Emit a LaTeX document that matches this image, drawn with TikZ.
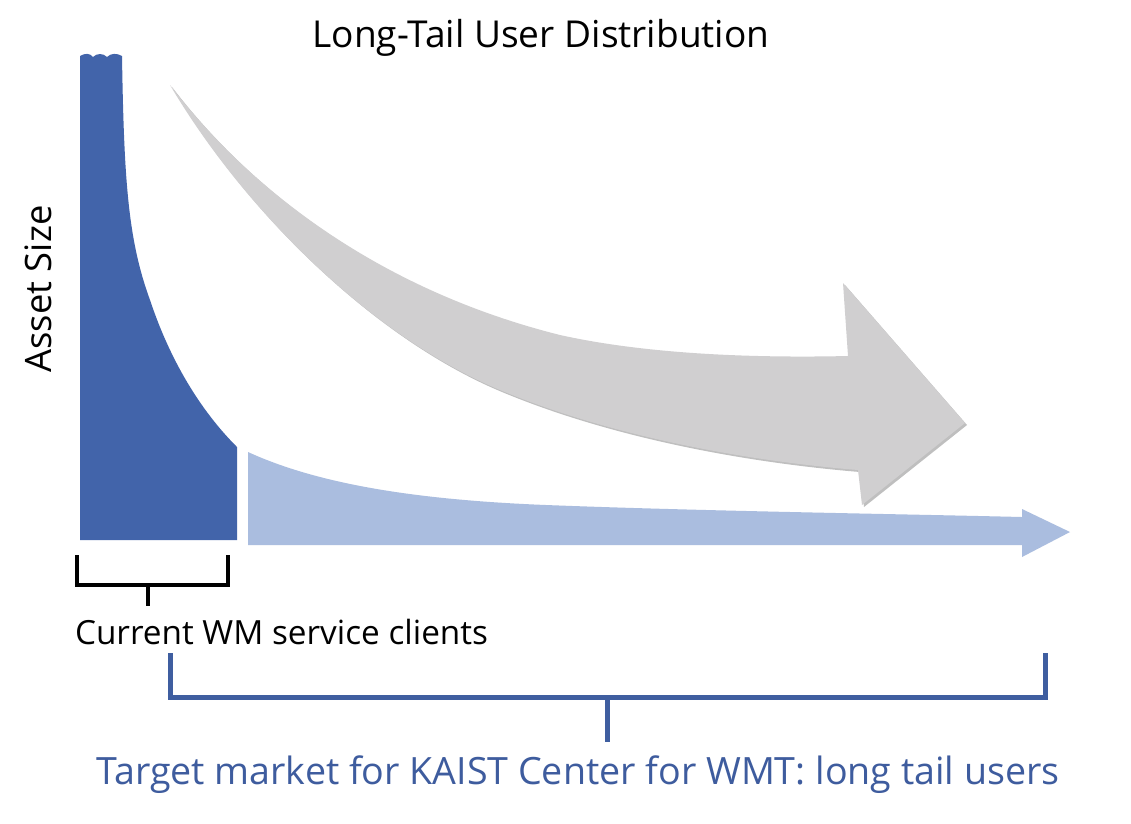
\documentclass[tikz,border=0pt]{standalone}
\usepackage{fontspec}
\setmainfont{Open Sans}
\usepackage{graphicx}
\usetikzlibrary{shadows}
\definecolor{barblue}{RGB}{66,100,170}
\definecolor{tailblue}{RGB}{170,189,223}
\definecolor{arrowgray}{RGB}{208,207,208}
\definecolor{brblue}{RGB}{63,94,160}
\definecolor{txtblue}{RGB}{62,92,158}
\begin{document}
\begin{tikzpicture}[x=1pt,y=-1pt,
  lbl/.style={inner sep=0pt, outer sep=0pt},
  blackbr/.style={line width=4pt, line join=miter, black},
  bluebr/.style={line width=5pt, line join=miter, brblue},
  brshadow/.style={line width=5pt, line join=miter, black, opacity=0.18}]
\useasboundingbox[fill=white] (0,0) rectangle (1131,823);

% dark blue head of the distribution
\fill[barblue] (80,540) -- (80,56)
  .. controls (85,53) and (90,53) .. (93,57)
  .. controls (97,53) and (103,53) .. (107,57)
  .. controls (111,53) and (117,53) .. (122,56)
  .. controls (124,180) and (128,240) .. (150,300)
  .. controls (170,360) and (200,410) .. (237,447)
  -- (237,540) -- cycle;

% light blue long tail with arrow head
\fill[tailblue] (248,452)
  .. controls (320,485) and (420,500) .. (546,505)
  .. controls (700,511) and (900,514) .. (1022,517)
  -- (1022,509) -- (1070,532) -- (1022,557) -- (1022,545)
  -- (248,545) -- cycle;

% big gray curved arrow
\fill[arrowgray, drop shadow={shadow xshift=2pt, shadow yshift=-2pt, opacity=0.25, fill=black}]
  (170,85)
  .. controls (250,190) and (380,290) .. (560,335)
  .. controls (650,355) and (760,358) .. (848,356)
  -- (843,283) -- (965,423) -- (862,505) -- (858,470)
  .. controls (760,462) and (620,440) .. (500,390)
  .. controls (380,340) and (250,220) .. (170,85) -- cycle;

% texts
\node[lbl] (title) at (541,38) {\resizebox{457pt}{!}{Long-Tail User Distribution}};
\node[lbl, rotate=90] (yaxis) at (38,289) {\resizebox{167pt}{!}{Asset Size}};
\node[lbl, anchor=west] (cur) at (75,632) {\resizebox{413pt}{!}{Current WM service clients}};
\node[lbl, text=txtblue] (tgt) at (578,775) {\resizebox{963pt}{!}{Target market for KAIST Center for WMT: long tail users}};

% black bracket
\coordinate (b1) at (77,555);
\coordinate (b2) at (77,585);
\coordinate (b3) at (228,585);
\coordinate (b4) at (228,555);
\coordinate (bs1) at (148,585);
\coordinate (bs2) at (148,606);
\draw[blackbr] (b1) -- (b2) -- (b3) -- (b4);
\draw[blackbr] (bs1) -- (bs2);

% blue bracket
\coordinate (t1) at (170,653);
\coordinate (t2) at (170,697);
\coordinate (t3) at (1045,697);
\coordinate (t4) at (1045,653);
\coordinate (ts1) at (607,697);
\coordinate (ts2) at (607,742);
\begin{scope}[shift={(2,3)}]
\draw[brshadow] (t1) -- (t2) -- (t3) -- (t4);
\draw[brshadow] (ts1) -- (ts2);
\end{scope}
\draw[bluebr] (t1) -- (t2) -- (t3) -- (t4);
\draw[bluebr] (ts1) -- (ts2);
\end{tikzpicture}
\end{document}
